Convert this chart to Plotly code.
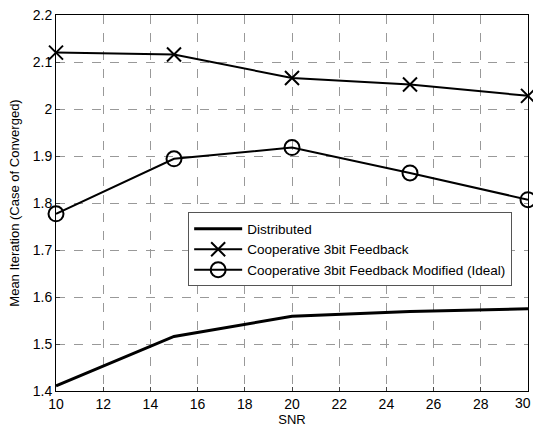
import plotly.graph_objects as go

snr = [10, 15, 20, 25, 30]
distributed = [1.411, 1.516, 1.559, 1.569, 1.575]
coop3bit = [2.120, 2.116, 2.066, 2.052, 2.028]
coop3bit_mod = [1.777, 1.894, 1.918, 1.864, 1.807]

x_ticks = [10, 12, 14, 16, 18, 20, 22, 24, 26, 28, 30]
x_labels = ["10", "12", "14", "16", "18", "20", "22", "24", "26", "28", ""]
y_ticks = [1.4, 1.5, 1.6, 1.7, 1.8, 1.9, 2.0, 2.1, 2.2]
y_labels = ["1.4", "1.5", "1.6", "1.7", "1.8", "1.9", "2", "2.1", "2.2"]

fig = go.Figure()
fig.add_trace(go.Scatter(x=snr, y=distributed, mode="lines", name="Distributed",
                         line=dict(color="black", width=3), cliponaxis=False))
fig.add_trace(go.Scatter(x=snr, y=coop3bit, mode="lines+markers", name="Cooperative 3bit Feedback",
                         line=dict(color="black", width=2), cliponaxis=False,
                         marker=dict(symbol="x-thin-open", size=14, color="black",
                                     line=dict(width=2, color="black"))))
fig.add_trace(go.Scatter(x=snr, y=coop3bit_mod, mode="lines+markers",
                         name="Cooperative 3bit Feedback Modified (Ideal)",
                         line=dict(color="black", width=2), cliponaxis=False,
                         marker=dict(symbol="circle-open", size=15, color="black",
                                     line=dict(width=2, color="black"))))

# last tick label, kept inside the page at the right edge
fig.add_annotation(x=1, y=0, xref="paper", yref="paper", text="30",
                   showarrow=False, yanchor="top", xanchor="right", xshift=5, yshift=-2,
                   font=dict(size=14, color="black"))

fig.update_layout(
    width=533, height=428,
    margin=dict(l=56, r=5, t=15, b=37, autoexpand=False),
    paper_bgcolor="white", plot_bgcolor="white",
    font=dict(family="Liberation Sans, Arial, sans-serif", size=13, color="black"),
    legend=dict(x=0.28, y=0.475, xanchor="left", yanchor="top",
                bgcolor="white", bordercolor="#555", borderwidth=1,
                font=dict(size=13.5), tracegroupgap=0, itemwidth=48),
    showlegend=True,
)
fig.update_xaxes(range=[10, 30], tickvals=x_ticks, ticktext=x_labels, showline=True,
                 linecolor="black", linewidth=1, mirror=True, ticks="inside", ticklen=4,
                 showgrid=True, gridcolor="#999", griddash="dash", gridwidth=1,
                 zeroline=False, tickfont=dict(size=14), automargin=False,
                 title=dict(text="SNR", standoff=4, font=dict(size=13)))
fig.update_yaxes(range=[1.4, 2.2], tickvals=y_ticks, ticktext=y_labels, showline=True,
                 linecolor="black", linewidth=1, mirror=True, ticks="inside", ticklen=4,
                 showgrid=True, gridcolor="#999", griddash="dash", gridwidth=1,
                 zeroline=False, tickfont=dict(size=14), automargin=False,
                 title=dict(text="Mean Iteration (Case of Converged)", standoff=10,
                            font=dict(size=13)))

fig.write_html("out.html", config={"displayModeBar": False},
               post_script="document.body.style.margin='0';")
